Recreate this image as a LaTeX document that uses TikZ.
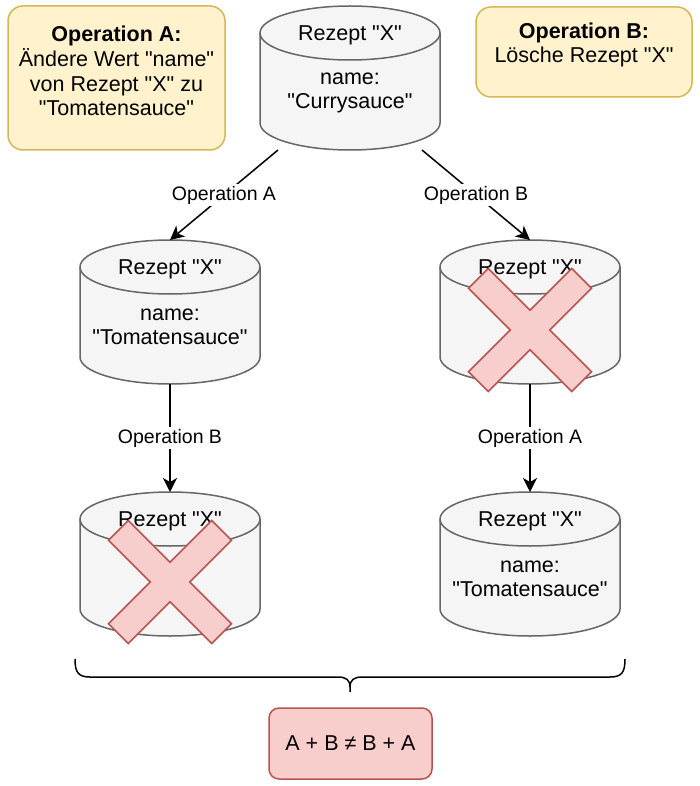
\documentclass[tikz,border=0pt]{standalone}
\usepackage{fontspec}
\setmainfont{Liberation Sans}[Ligatures=TeXOff]
\usepackage{tikz}
\usetikzlibrary{calc,arrows.meta}

\definecolor{notefill}{HTML}{FFF2CC}
\definecolor{noteline}{HTML}{D6B656}
\definecolor{cylfill}{HTML}{F5F5F5}
\definecolor{cylline}{HTML}{666666}
\definecolor{redfill}{HTML}{F8CECC}
\definecolor{redline}{HTML}{B85450}

\tikzset{
  xmark/.pic={
    \filldraw[fill=redfill,draw=redline,line width=1.5pt]
      (73pt,-14pt) -- (73pt,14pt) -- (14pt,14pt) -- (14pt,73pt) -- (-14pt,73pt) -- (-14pt,14pt)
      -- (-73pt,14pt) -- (-73pt,-14pt) -- (-14pt,-14pt) -- (-14pt,-73pt) -- (14pt,-73pt) -- (14pt,-14pt) -- cycle;
  }
}

\begin{document}
\begin{tikzpicture}[x=1pt,y=-1pt,
    note/.style={rounded corners=15pt,fill=notefill,draw=noteline,line width=1.5pt},
    notetext/.style={align=center,inner sep=0pt,font=\fontsize{21.5}{24.8}\selectfont},
    rezept/.style={minimum width=184pt,minimum height=148pt,inner sep=0pt,outer sep=-2pt,
      path picture={
        \coordinate (m) at (path picture bounding box.center);
        \filldraw[fill=cylfill,draw=cylline,line width=1.5pt]
          ([shift={(-90pt,45pt)}]m) -- ([shift={(-90pt,-45pt)}]m)
          arc[start angle=180,end angle=360,x radius=90pt,y radius=27pt]
          -- ([shift={(90pt,45pt)}]m)
          arc[start angle=0,end angle=180,x radius=90pt,y radius=27pt] -- cycle;
        \draw[cylline,line width=1.5pt] ([shift={(-90pt,45pt)}]m)
          arc[start angle=180,end angle=360,x radius=90pt,y radius=27pt];
      }},
    cyltext/.style={align=center,inner sep=0pt,font=\fontsize{21.5}{24}\selectfont},
    link/.style={-{Stealth[length=14pt,width=14pt,inset=4pt]},line width=1.5pt},
    edgelabel/.style={fill=white,inner sep=2pt,font=\fontsize{19.5}{22}\selectfont},
    result/.style={rounded corners=10pt,fill=redfill,draw=redline,line width=1.5pt,
      minimum width=163pt,minimum height=71pt,font=\fontsize{21.5}{24}\selectfont},
    brace/.style={line width=1.5pt}]
  \useasboundingbox (0,0) rectangle (700,786);

  % the two operations
  \node[note,minimum width=217pt,minimum height=144pt] (note A) at (116.5,78) {};
  \node[notetext] (note A text) at (116.5,71) {\textbf{Operation A:}\\Ändere Wert "name"\\von Rezept "X" zu\\"Tomatensauce"};
  \node[note,minimum width=216pt,minimum height=90pt] (note B) at (584,52) {};
  \node[notetext] (note B text) at (584,45) {\textbf{Operation B:}\\Lösche Rezept "X"};

  % recipes
  \node[rezept] (start) at (350,78) {};
  \node[rezept] (a) at (170,312) {};
  \node[rezept] (b) at (530,312) {};
  \node[rezept] (ab) at (170,564) {};
  \node[rezept] (ba) at (530,564) {};

  \node[cyltext] (start title) at ([yshift=43pt]start.center) {Rezept "X"};
  \node[cyltext] (start value) at ([yshift=-15pt]start.center) {name:\\"Currysauce"};
  \node[cyltext] (a title) at ([yshift=43pt]a.center) {Rezept "X"};
  \node[cyltext] (a value) at ([yshift=-15pt]a.center) {name:\\"Tomatensauce"};
  \node[cyltext] (b title) at ([yshift=43pt]b.center) {Rezept "X"};
  \node[cyltext] (ab title) at ([yshift=43pt]ab.center) {Rezept "X"};
  \node[cyltext] (ba title) at ([yshift=43pt]ba.center) {Rezept "X"};
  \node[cyltext] (ba value) at ([yshift=-15pt]ba.center) {name:\\"Tomatensauce"};

  % deleted
  \pic[rotate=45] at ([yshift=-18pt]b.center) {xmark};
  \pic[rotate=45] at ([yshift=-18pt]ab.center) {xmark};

  \draw[link] ([xshift=-72pt]start.south) -- node[edgelabel] (op A1) {Operation A} (a.north);
  \draw[link] ([xshift=72pt]start.south) -- node[edgelabel] (op B1) {Operation B} (b.north);
  \draw[link] (a) -- node[edgelabel] (op B2) {Operation B} (ab);
  \draw[link] (b) -- node[edgelabel] (op A2) {Operation A} (ba);

  \draw[brace] (75,659) .. controls (75,672) and (78,677) .. (90,677) -- (338,677)
    .. controls (346,677) and (350,680) .. (350,687) -- (350,692)
    (350,687) .. controls (350,680) and (354,677) .. (362,677) -- (610,677)
    .. controls (622,677) and (625,672) .. (625,659);

  \node[result] (result) at (350.5,743.5) {A + B ≠ B + A};
\end{tikzpicture}
\end{document}
